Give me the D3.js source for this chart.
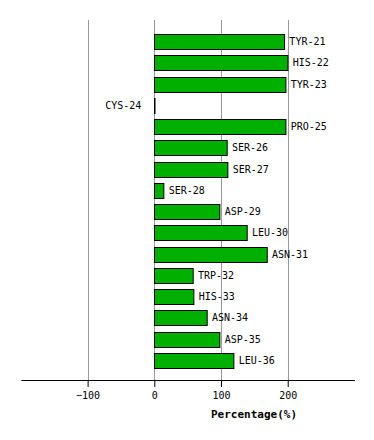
<!DOCTYPE html>
<meta charset="utf-8">
<script src="https://d3js.org/d3.v7.min.js"></script>
<style>
body { margin: 0; background: #fff; }
text { font-family: "DejaVu Sans Mono", monospace; font-size: 10px; }
</style>
<body>
<div id="chart"></div>
<script>
// residues and their percentages
var residues = ["TYR-21", "HIS-22", "TYR-23", "CYS-24", "PRO-25", "SER-26", "SER-27", "SER-28",
                "ASP-29", "LEU-30", "ASN-31", "TRP-32", "HIS-33", "ASN-34", "ASP-35", "LEU-36"];
var percentages = [195, 200, 197, 0, 197, 109, 110, 14, 98, 139, 169, 58, 59, 79, 98, 119];
var ticks = [-100, 0, 100, 200];

var width = 374, height = 440;
var axisY = 380;

var svg = d3.select("#chart").append("svg")
    .attr("width", width)
    .attr("height", height);

var x = d3.scaleLinear()
    .domain([-200, 300])
    .range([20.9, 354.4]);

var y = d3.scaleBand()
    .domain(residues)
    .range([31, 371])
    .paddingInner(0.3)
    .paddingOuter(0.15);

// grid lines
svg.selectAll(".grid")
    .data(ticks)
    .enter()
    .append("line")
      .attr("x1", function(d) { return Math.round(x(d)) + 0.5; })
      .attr("x2", function(d) { return Math.round(x(d)) + 0.5; })
      .attr("y1", 20)
      .attr("y2", axisY)
      .attr("stroke", "#999")
      .attr("stroke-width", 1);

// bars (a zero value still gets a thin black mark)
svg.selectAll(".bar")
    .data(percentages)
    .enter()
    .append("rect")
      .attr("x", function(d) { return Math.round(x(Math.min(0, d))) + 0.5; })
      .attr("y", function(d, i) { return Math.round(y(residues[i])) + 0.5; })
      .attr("width", function(d) { return Math.max(Math.abs(x(d) - x(0)), 0.5); })
      .attr("height", Math.round(y.bandwidth()))
      .attr("fill", "#00b000")
      .attr("stroke", "#000")
      .attr("stroke-width", 1);

// bar labels
svg.selectAll(".label")
    .data(percentages)
    .enter()
    .append("text")
      .attr("x", function(d) { return d > 0 ? x(d) + 5 : x(0) - 13; })
      .attr("y", function(d, i) { return y(residues[i]) + y.bandwidth() / 2; })
      .attr("dy", "0.35em")
      .attr("text-anchor", function(d) { return d > 0 ? "start" : "end"; })
      .text(function(d, i) { return residues[i]; });

// x axis
var axis = svg.append("g")
    .attr("transform", "translate(0," + axisY + ")")
    .call(d3.axisBottom(x).tickValues(ticks).tickSize(7).tickPadding(5).tickSizeOuter(0));
axis.select(".domain").attr("stroke", "#000");
axis.selectAll("text").style("font-family", "DejaVu Sans Mono, monospace").style("font-size", "10px");

svg.append("text")
    .attr("x", 254)
    .attr("y", 418)
    .attr("text-anchor", "middle")
    .style("font-weight", "bold")
    .style("font-size", "11px")
    .text("Percentage(%)");
</script>
</body>
